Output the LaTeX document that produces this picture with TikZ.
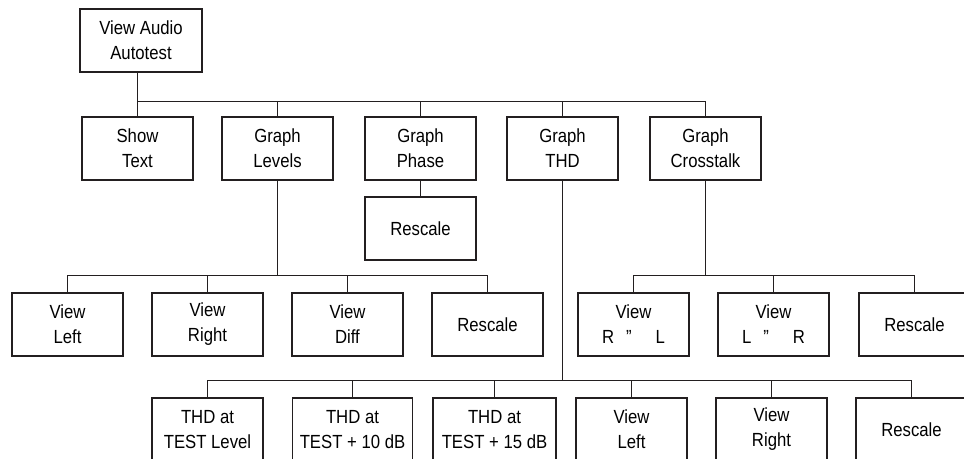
\documentclass[tikz,border=0pt]{standalone}
\usepackage{fontspec}
\setmainfont{Liberation Sans}[FakeStretch=0.88]
\definecolor{treeline}{RGB}{35,31,32}
\begin{document}
\begin{tikzpicture}[
		x=1pt, y=-1pt,
		font=\fontsize{19}{25}\selectfont,
		menu/.style={rectangle, draw=treeline, line width=1.1pt, align=center,
			minimum width=111pt, minimum height=63pt, inner sep=2pt},
		link/.style={draw=treeline, line width=1.1pt}
	]
		\useasboundingbox (0,0) rectangle (964,458);
		\clip (0,0) rectangle (964,458);
		% raiz
		\node[menu, minimum width=122pt] (VAA) at (141,40.5) {View Audio\\Autotest};
		% linha 1
		\node[menu] (ST) at (137.5,148.5) {Show\\Text};
		\node[menu] (GL) at (277.5,148.5) {Graph\\Levels};
		\node[menu] (GP) at (420.5,148.5) {Graph\\Phase};
		\node[menu] (GT) at (562.5,148.5) {Graph\\THD};
		\node[menu] (GC) at (705.5,148.5) {Graph\\Crosstalk};
		% phase
		\node[menu] (GPR) at (420.5,228.5) {Rescale};
		% linha 2: levels
		\node[menu] (GLL) at (67.5,324.5) {View\\Left};
		\node[menu] (GLR) at (207.5,324.5) {View\\Right};
		\node[menu] (GLD) at (347.5,324.5) {View\\Diff};
		\node[menu] (GLS) at (487.5,324.5) {Rescale};
		% linha 2: crosstalk
		\node[menu] (GCR) at (633.5,324.5) {View\\R\hspace{12pt}”\hspace{24pt}L};
		\node[menu] (GCL) at (773.5,324.5) {View\\L\hspace{12pt}”\hspace{24pt}R};
		\node[menu] (GCS) at (914.5,324.5) {Rescale};
		% linha 3: THD
		\node[menu] (GT1) at (207.5,429.5) {THD at\\TEST Level};
		\node[menu, minimum width=120pt] (GT2) at (352.5,429.5) {THD at\\TEST + 10 dB};
		\node[menu, minimum width=123pt] (GT3) at (494.5,429.5) {THD at\\TEST + 15 dB};
		\node[menu] (GTL) at (631.5,429.5) {View\\Left};
		\node[menu] (GTR) at (771.5,429.5) {View\\Right};
		\node[menu] (GTS) at (911.5,429.5) {Rescale};
		% barramentos
		\path (VAA.south) ++(0,28.5) coordinate (busR);
		\path (GL.south) ++(0,94.5) coordinate (busL);
		\path (GC.south) ++(0,94.5) coordinate (busC);
		\path (GT.south) ++(0,199.5) coordinate (busT);
		% raiz -> linha 1
		\draw[link] (VAA.south -| ST.north) -- (ST.north);
		\draw[link] (ST.north |- busR) -| (GC.north);
		\draw[link] (GL.north) -- (GL.north |- busR);
		\draw[link] (GP.north) -- (GP.north |- busR);
		\draw[link] (GT.north) -- (GT.north |- busR);
		% phase
		\draw[link] (GP) -- (GPR);
		% levels
		\draw[link] (GL.south) -- (busL);
		\draw[link] (GLL.north) |- (busL) -| (GLS.north);
		\draw[link] (GLR.north) -- (GLR.north |- busL);
		\draw[link] (GLD.north) -- (GLD.north |- busL);
		% crosstalk
		\draw[link] (GC.south) -- (busC);
		\draw[link] (GCR.north) |- (busC) -| (GCS.north);
		\draw[link] (GCL.north) -- (GCL.north |- busC);
		% THD
		\draw[link] (GT.south) -- (busT);
		\draw[link] (GT1.north) |- (busT) -| (GTS.north);
		\draw[link] (GT2.north) -- (GT2.north |- busT);
		\draw[link] (GT3.north) -- (GT3.north |- busT);
		\draw[link] (GTL.north) -- (GTL.north |- busT);
		\draw[link] (GTR.north) -- (GTR.north |- busT);
	\end{tikzpicture}
\end{document}
